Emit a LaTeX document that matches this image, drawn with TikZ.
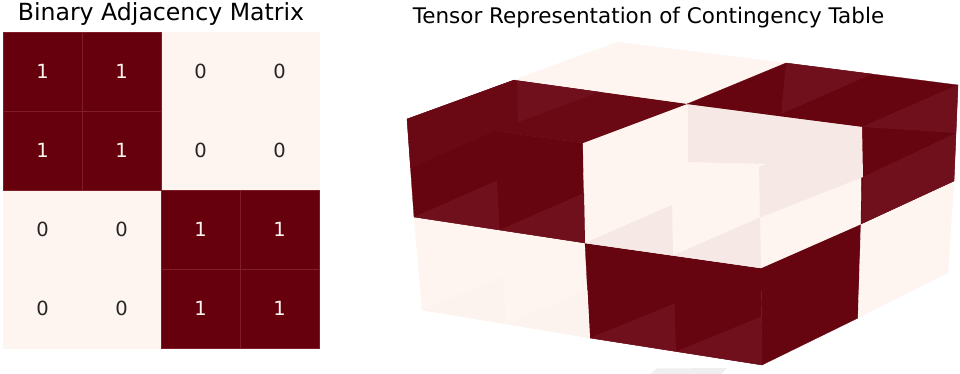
\documentclass[tikz,border=0pt]{standalone}
\usepackage{fontspec}
\setmainfont{DejaVu Sans}
\definecolor{cdark}{HTML}{67000D}
\definecolor{clight}{HTML}{FFF5F0}
\definecolor{cgrid}{HTML}{7E1E29}
\definecolor{czero}{HTML}{262626}
\definecolor{cone}{HTML}{FFF5F0}
\definecolor{cpane}{HTML}{EFEFEF}
\definecolor{vdark}{HTML}{66050F}
\definecolor{vdarkmid}{HTML}{6A0914}
\definecolor{vdarklt}{HTML}{70101D}
\definecolor{vlight}{HTML}{FEF5F1}
\definecolor{vpink}{HTML}{F6E8E4}
\definecolor{vfaint}{HTML}{FCF2EE}
\begin{document}
\begin{tikzpicture}[x=1pt,y=-1pt,
  cellbase/.style={rectangle,minimum width=79pt,minimum height=79pt,inner sep=0pt,line width=0.5pt,
    font=\fontsize{19.5}{19.5}\selectfont},
  celldark/.style={cellbase,fill=cdark,draw=cgrid,text=cone},
  celllight/.style={cellbase,fill=clight,draw=clight,text=czero},
  titletext/.style={anchor=base,inner sep=0pt,text=black},
  fd/.style={fill=vdark,draw=vdark,line width=0.3pt,line join=round},
  fl/.style={fill=vlight,draw=vlight,line width=0.3pt,line join=round},
  tdmid/.style={fill=vdarkmid},
  tdlt/.style={fill=vdarklt},
  tpink/.style={fill=vpink},
  tfaint/.style={fill=vfaint}]
\useasboundingbox (0,0) rectangle (960,374);

% ---------- left: binary adjacency matrix ----------
\node[titletext,font=\fontsize{23.6}{23.6}\selectfont] (t1) at (161,21) {Binary Adjacency Matrix};
\node[celllight] (c13) at (200.5,71.5) {0};
\node[celllight] (c14) at (279.5,71.5) {0};
\node[celllight] (c23) at (200.5,150.5) {0};
\node[celllight] (c24) at (279.5,150.5) {0};
\node[celllight] (c31) at (42.5,229.5) {0};
\node[celllight] (c32) at (121.5,229.5) {0};
\node[celllight] (c41) at (42.5,308.5) {0};
\node[celllight] (c42) at (121.5,308.5) {0};
\node[celldark] (c11) at (42.5,71.5) {1};
\node[celldark] (c12) at (121.5,71.5) {1};
\node[celldark] (c21) at (42.5,150.5) {1};
\node[celldark] (c22) at (121.5,150.5) {1};
\node[celldark] (c33) at (200.5,229.5) {1};
\node[celldark] (c34) at (279.5,229.5) {1};
\node[celldark] (c43) at (200.5,308.5) {1};
\node[celldark] (c44) at (279.5,308.5) {1};

% ---------- right: tensor voxels ----------
\node[titletext,font=\fontsize{21.5}{21.5}\selectfont] (t2) at (648.5,23.5) {Tensor Representation of Contingency Table};

% grid points p<u><v><z>
\coordinate (p002) at (407,119);
\coordinate (p102) at (583,143);
\coordinate (p202) at (759,167);
\coordinate (p012) at (514,80);
\coordinate (p112) at (687,104);
\coordinate (p212) at (862,127);
\coordinate (p022) at (617,42);
\coordinate (p122) at (786,63);
\coordinate (p222) at (958,85);
\coordinate (p001) at (414,217);
\coordinate (p101) at (585,243);
\coordinate (p201) at (761,268);
\coordinate (p211) at (861,224);
\coordinate (p221) at (954,181);
\coordinate (p000) at (422,310);
\coordinate (p100) at (590,338);
\coordinate (p200) at (762,365);
\coordinate (p210) at (858,318);
\coordinate (p220) at (948,273);

% pane sliver
\fill[cpane] (650,374) -- (657,368.5) -- (727,368) -- (721,374) -- cycle;

% ---- base faces (visible sides) ----
% top
\filldraw[fd] (p002) -- (p102) -- (p112) -- (p012) -- cycle;
\filldraw[fl] (p102) -- (p202) -- (p212) -- (p112) -- cycle;
\filldraw[fl] (p012) -- (p112) -- (p122) -- (p022) -- cycle;
\filldraw[fd] (p112) -- (p212) -- (p222) -- (p122) -- cycle;
% front
\filldraw[fl] (p000) -- (p100) -- (p101) -- (p001) -- cycle;
\filldraw[fd] (p100) -- (p200) -- (p201) -- (p101) -- cycle;
\filldraw[fd] (p001) -- (p101) -- (p102) -- (p002) -- cycle;
\filldraw[fl] (p101) -- (p201) -- (p202) -- (p102) -- cycle;
% right
\filldraw[fd] (p200) -- (p210) -- (p211) -- (p201) -- cycle;
\filldraw[fl] (p210) -- (p220) -- (p221) -- (p211) -- cycle;
\filldraw[fl] (p201) -- (p211) -- (p212) -- (p202) -- cycle;
\filldraw[fd] (p211) -- (p221) -- (p222) -- (p212) -- cycle;

% ---- see-through tints ----
% front face, upper layer triangles
\fill[tdlt]  (p001) -- (497,180.5) -- (499.5,230) -- cycle;
\fill[tdlt]  (499.5,230) -- (584,193) -- (p101) -- cycle;
\fill[tpink] (p101) -- (672,205) -- (673,255.5) -- cycle;
\fill[tpink] (673,255.5) -- (760,217.5) -- (p201) -- cycle;
% front face, lower layer triangles
\fill[tfaint] (p000) -- (503,277) -- (506,324) -- cycle;
\fill[tfaint] (506,324) -- (587.5,290.5) -- (p100) -- cycle;
\fill[tdlt]  (p100) -- (674.5,303.5) -- (676,351.5) -- cycle;
\fill[tdlt]  (676,351.5) -- (761.5,316.5) -- (p200) -- cycle;
% upper-left of dark block
\fill[tdmid] (410.5,168) -- (p002) -- (p012) -- (600,92) -- (495,131) -- cycle;
\fill[tdlt]  (517,80.5) -- (600,92) -- (518,122.5) -- cycle;
\fill[tdmid] (495,131) -- (600,92) -- (p112) -- (p102) -- cycle;
% light top / right of front-right voxel
\fill[tpink] (688,104.5) -- (776,116) -- (776,164) -- (688,162) -- cycle;
\fill[tpink] (776,116) -- (p212) -- (863,177) -- (760,217.5) -- (p202) -- (776,160) -- cycle;
% dark back-right voxel
\fill[tdlt]  (p122) -- (872,74) -- (781,114) -- cycle;
\fill[tdlt]  (p212) -- (p222) -- (956,133) -- cycle;
\fill[tdlt]  (863,177) -- (956,133) -- (p221) -- (p211) -- cycle;
\end{tikzpicture}
\end{document}
